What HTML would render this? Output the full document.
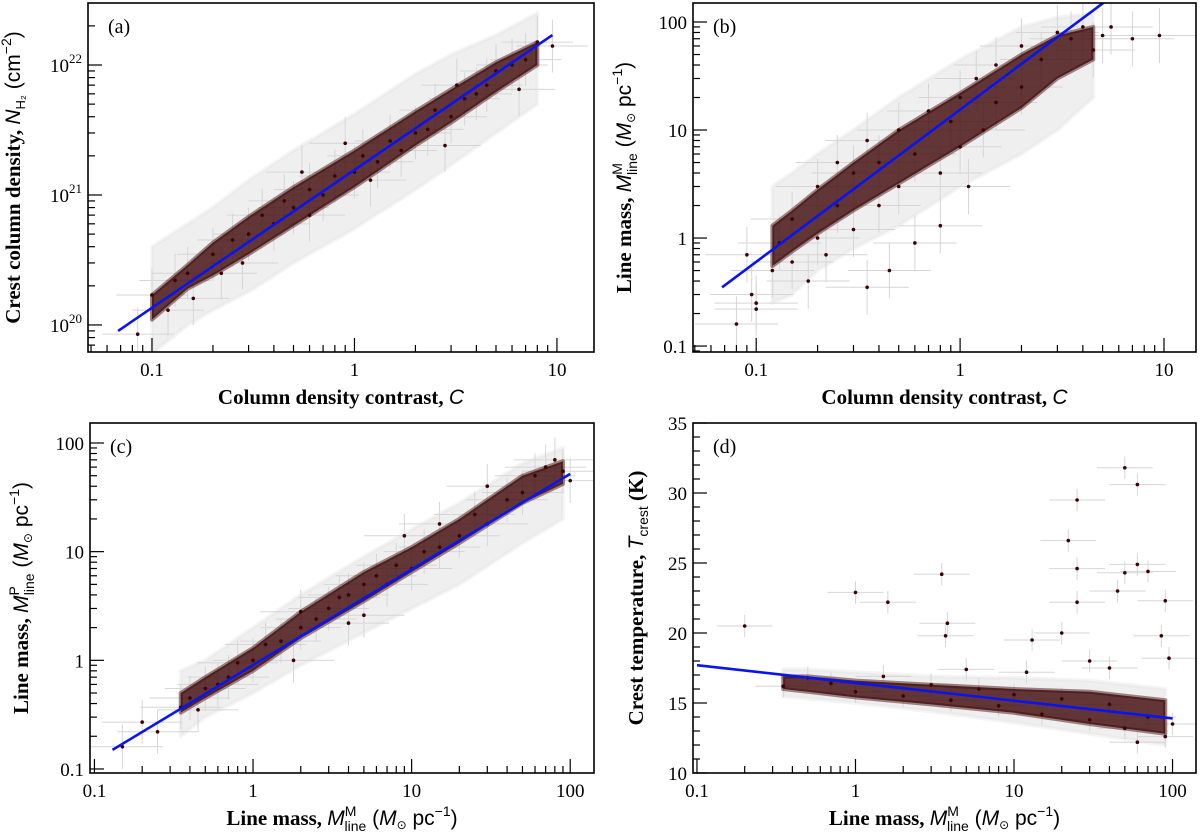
<!DOCTYPE html>
<html><head><meta charset="utf-8"><style>
html,body{margin:0;padding:0;background:#fff;}
svg{display:block;font-family:"Liberation Serif",serif;}
</style></head><body>
<svg id="fig" width="1200" height="839" viewBox="0 0 1200 839" xmlns="http://www.w3.org/2000/svg"></svg>
<script>
// ---------- Panel (a) data ----------
const aPoints=[[0.085,0.85],[0.1,1.7],[0.12,1.3],[0.13,2.2],[0.15,2.5],[0.16,1.6],[0.2,3.5],[0.22,2.5],[0.25,4.5],[0.3,5],[0.35,7],[0.4,6],[0.45,9],[0.5,8],[0.6,11],[0.7,10],[0.8,14],[1,15],[1.1,20],[1.3,18],[1.5,26],[1.7,22],[2,30],[2.3,32],[2.5,45],[3,40],[3.5,55],[4,60],[5,90],[6,100],[7,110],[8,150],[9.5,140],[0.55,15],[0.9,25],[0.28,3],[0.6,7],[1.2,13],[2.8,24],[4.5,70],[6.5,65],[3.2,70]]; // N in 1e20 cm^-2
const aBandX=[0.1,0.15,0.2,0.3,0.5,1,2,3,5,8];
const aBandLo=[1.1,1.9,2.4,3.5,5.8,11.5,24,36,62,100];
const aBandHi=[1.7,2.9,4.3,6.8,11.5,22,44,65,105,150];
const aErrLo=[0.6,1,1.3,1.8,3,5.5,11,17,30,50];
const aErrHi=[4,6,8,13,22,42,85,120,170,250];
const aFitX=[0.068,9.5];
const aFitY=[0.9,170];
// ---------- Panel (b) data ----------
const bPoints=[[0.08,0.16],[0.09,0.7],[0.1,0.22],[0.1,0.25],[0.095,0.3],[0.12,0.5],[0.13,0.9],[0.15,0.6],[0.15,1.5],[0.18,0.4],[0.2,1],[0.2,3],[0.22,0.7],[0.25,2],[0.25,5],[0.3,1.2],[0.3,4],[0.35,8],[0.4,2],[0.4,5],[0.5,3],[0.5,10],[0.6,6],[0.7,15],[0.8,4],[0.9,12],[1,20],[1,7],[1.2,30],[1.3,10],[1.5,40],[1.5,18],[2,25],[2,60],[2.5,45],[3,80],[3.5,70],[4,90],[4.5,55],[5,75],[5.5,90],[7,70],[9.5,75],[0.6,0.9],[0.8,1.3],[0.45,0.5],[1.1,3],[0.35,0.35]];
const bBandX=[0.12,0.15,0.2,0.3,0.5,1,2,3,4.5];
const bBandLo=[0.55,0.75,1.1,1.8,3.2,7,16,30,45];
const bBandHi=[1.3,1.8,2.8,5,10,22,50,75,90];
const bErrLo=[0.25,0.3,0.5,0.8,1.3,3,6,10,20];
const bErrHi=[3,4,6,10,20,45,90,110,120];
const bFitX=[0.068,5.5];
const bFitY=[0.35,170];
// ---------- Panel (c) data ----------
const cPoints=[[0.15,0.16],[0.2,0.27],[0.25,0.22],[0.35,0.37],[0.4,0.45],[0.5,0.55],[0.6,0.6],[0.7,0.7],[0.8,0.95],[1,1],[1.2,1.4],[1.5,1.5],[2,2],[2,2.8],[2.5,2.4],[3,3],[3.5,3.8],[4,4],[5,5],[6,6],[7,5],[8,7.5],[10,7],[12,10],[15,11],[20,14],[25,22],[30,18],[40,30],[50,35],[60,50],[70,60],[80,70],[90,55],[100,45],[0.45,0.35],[1.8,1],[5,2.6],[15,18],[30,40],[4,2.2],[9,14]];
const cBandX=[0.35,0.5,1,2,5,10,20,50,90];
const cBandLo=[0.33,0.45,0.8,1.6,3.5,6.5,12,28,42];
const cBandHi=[0.5,0.7,1.3,2.8,6.5,11,20,50,68];
const cErrLo=[0.2,0.3,0.5,0.9,1.8,3,5,12,20];
const cErrHi=[0.8,1,2,4,9,16,28,65,90];
const cFitX=[0.13,100];
const cFitY=[0.15,52];
// ---------- Panel (d) data ----------
const dPoints=[[0.2,20.5],[1,22.9],[1.6,22.2],[3.5,24.2],[3.8,20.7],[3.7,19.8],[22,26.6],[25,29.5],[25,24.6],[25,22.2],[50,31.8],[60,30.6],[60,24.9],[50,24.3],[70,24.4],[90,22.3],[85,19.8],[95,18.2],[45,23],[13,19.5],[20,20],[30,18],[40,17.5],[0.35,16.2],[0.5,16.8],[0.7,16.4],[1,15.8],[1.5,16.9],[2,15.5],[3,16.3],[4,15.2],[6,16],[8,14.8],[10,15.6],[15,14.2],[20,15.3],[30,13.8],[40,14.9],[50,13.2],[70,14],[90,12.6],[100,13.5],[60,12.2],[12,17.2],[5,17.4]];
const dBandX=[0.35,0.5,1,3,10,30,90];
const dBandLo=[16,15.8,15.4,14.9,14.3,13.5,12.8];
const dBandHi=[16.9,16.9,16.6,16.3,16,15.8,15.2];
const dErrLo=[15.5,15.3,15,14.4,13.6,12.8,12];
const dErrHi=[17.4,17.4,17.2,16.9,16.8,16.6,16];
const dFitX=[0.1,100];
const dFitY=[17.7,13.9];

const NS="http://www.w3.org/2000/svg";
const svg=document.getElementById('fig');
function mk(tag,attrs,parent){const e=document.createElementNS(NS,tag);for(const k in attrs)e.setAttribute(k,attrs[k]);(parent||svg).appendChild(e);return e;}

function panel(cfg){
  const g=mk('g',{});
  
  
  const L=cfg.x0,R=cfg.x1,T=cfg.y0,B=cfg.y1;
  const sx=v=>L+(Math.log10(v)-cfg.xl[0])/(cfg.xl[1]-cfg.xl[0])*(R-L);
  const sy=cfg.ylog?(v=>B-(Math.log10(v)-cfg.yl[0])/(cfg.yl[1]-cfg.yl[0])*(B-T)):(v=>B-(v-cfg.yl[0])/(cfg.yl[1]-cfg.yl[0])*(B-T));
  const clip='clip-'+cfg.name;
  const cp=mk('clipPath',{id:clip},g);mk('rect',{x:L,y:T,width:R-L,height:B-T},cp);
  const inner=mk('g',{'clip-path':'url(#'+clip+')'},g);
  function band(xs,lo,hi,fill,op,nm){
    let p=xs.map((x,i)=>sx(x)+','+sy(hi[i])).join(' ')+' '+xs.slice().reverse().map((x,i)=>sx(x)+','+sy(lo[xs.length-1-i])).join(' ');
    const e=mk('polygon',{points:p,fill:fill,'fill-opacity':op,'stroke':fill,'stroke-opacity':op*0.6,'stroke-width':4,'stroke-linejoin':'round'},inner);
    
    
  }
  band(cfg.bx,cfg.elo,cfg.ehi,'#e4e4e4',0.6,'error-region');
  cfg.pts.forEach(p=>{
    const x=sx(p[0]),y=sy(p[1]);
    const fx=cfg.ex,fy=cfg.ey;
    const x1=sx(p[0]/fx),x2=sx(p[0]*fx);
    const y1=cfg.ylog?sy(p[1]/fy):sy(p[1]-fy),y2=cfg.ylog?sy(p[1]*fy):sy(p[1]+fy);
    const e=mk('path',{d:`M${x1},${y}H${x2}M${x},${y1}V${y2}`,stroke:'#d6d6d6','stroke-width':1,fill:'none'},inner);
    
    
  });
  band(cfg.bx,cfg.blo,cfg.bhi,'#3f0808',0.8,'point-cloud');
  cfg.pts.forEach(p=>{
    const c=mk('circle',{cx:sx(p[0]),cy:sy(p[1]),r:1.8,fill:'#3a0404'},inner);
    
    
  });
  const fl=mk('line',{x1:sx(cfg.fx[0]),y1:sy(cfg.fy[0]),x2:sx(cfg.fx[1]),y2:sy(cfg.fy[1]),stroke:'#0a14f0','stroke-width':2.6},inner);
  
  
  const fr=mk('rect',{x:L,y:T,width:R-L,height:B-T,fill:'none',stroke:'#000','stroke-width':1.6},g);
  
  
  const xt=mk('g',{},g);
  
  
  for(let d=Math.floor(cfg.xl[0]);d<=Math.ceil(cfg.xl[1]);d++){
    for(let m=1;m<10;m++){
      const v=m*Math.pow(10,d);const lv=Math.log10(v);
      if(lv<cfg.xl[0]||lv>cfg.xl[1])continue;
      const x=sx(v);const len=m===1?14:7;
      mk('line',{x1:x,y1:B,x2:x,y2:B-len,stroke:'#000','stroke-width':1.2},xt);
    }
  }
  cfg.xticks.forEach((t,i)=>{
    const tx=mk('text',{x:sx(cfg.xtv[i]),y:B+24,'text-anchor':'middle','font-size':19},xt);tx.textContent=t;
    
    
  });
  const yt=mk('g',{},g);
  
  
  if(cfg.ylog){
    for(let d=Math.floor(cfg.yl[0]);d<=Math.ceil(cfg.yl[1]);d++){
      for(let m=1;m<10;m++){
        const v=m*Math.pow(10,d);const lv=Math.log10(v);
        if(lv<cfg.yl[0]||lv>cfg.yl[1])continue;
        const y=sy(v);const len=m===1?14:7;
        mk('line',{x1:L,y1:y,x2:L+len,y2:y,stroke:'#000','stroke-width':1.2},yt);
      }
    }
  } else {
    for(let v=cfg.yl[0];v<=cfg.yl[1];v+=1){
      const y=sy(v);const len=(v%5===0)?14:7;
      mk('line',{x1:L,y1:y,x2:L+len,y2:y,stroke:'#000','stroke-width':1.2},yt);
    }
  }
  cfg.yticks.forEach((t,i)=>{
    const y=sy(cfg.ytv[i]);
    const tx=mk('text',{x:L-6,y:y+7,'text-anchor':'end','font-size':19},yt);
    
    
    if(Array.isArray(t)){tx.textContent=t[0];const s=mk('tspan',{dy:-9,'font-size':13},tx);s.textContent=t[1];}
    else tx.textContent=t;
  });
  const lab=mk('text',{x:L+20,y:T+30,'font-size':20},g);lab.textContent=cfg.letter;
  
  
  const xtit=mk('text',{x:(L+R)/2,y:B+52,'text-anchor':'middle','font-size':21,'font-weight':'bold'},g);
  xtit.innerHTML=cfg.xtitle;
  
  
  const yx=L-cfg.ytoff,ym=(T+B)/2;
  const ytit=mk('text',{x:yx,y:ym,'text-anchor':'middle','font-size':21,'font-weight':'bold',transform:`rotate(-90 ${yx} ${ym})`},g);
  ytit.innerHTML=cfg.ytitle;
  
  
}

const lm='Line mass, <tspan font-style="italic" font-weight="normal" font-family="Liberation Sans">M</tspan><tspan font-weight="normal" font-family="Liberation Sans" font-size="14" dy="-9">M</tspan><tspan font-weight="normal" font-family="Liberation Sans" font-size="14" dy="15" dx="-12">line</tspan><tspan font-weight="normal" font-family="Liberation Sans" dy="-6"> (</tspan><tspan font-weight="normal" font-style="italic" font-family="Liberation Sans">M</tspan><tspan font-weight="normal" font-family="DejaVu Sans" font-size="12" dy="4">⊙</tspan><tspan font-weight="normal" font-family="Liberation Sans" dy="-4"> pc</tspan><tspan font-weight="normal" font-family="Liberation Sans" font-size="14" dy="-9">−1</tspan><tspan font-weight="normal" font-family="Liberation Sans" dy="9">)</tspan>';
const lmP=lm.replace('font-size="14" dy="-9">M</tspan>','font-size="14" dy="-9">P</tspan>').replace('dx="-12"','dx="-9"');
const cTitle='Column density contrast, <tspan font-style="italic" font-weight="normal" font-family="Liberation Sans">C</tspan>';

panel({name:'panel-a',letter:'(a)',x0:88,x1:594,y0:3,y1:352,xl:[-1.316,1.183],yl:[19.792,22.477],ylog:true,
  pts:aPoints.map(p=>[p[0],p[1]*1e20]),bx:aBandX,blo:aBandLo.map(v=>v*1e20),bhi:aBandHi.map(v=>v*1e20),
  elo:aErrLo.map(v=>v*1e20),ehi:aErrHi.map(v=>v*1e20),fx:aFitX,fy:aFitY.map(v=>v*1e20),ex:1.5,ey:1.6,
  xticks:['0.1','1','10'],xtv:[0.1,1,10],yticks:[['10','20'],['10','21'],['10','22']],ytv:[1e20,1e21,1e22],
  xtitle:cTitle,ytitle:'Crest column density, <tspan font-style="italic" font-weight="normal" font-family="Liberation Sans">N</tspan><tspan font-weight="normal" font-family="Liberation Sans" font-size="13" dy="5">H₂</tspan><tspan font-weight="normal" font-family="Liberation Sans" dy="-5"> (cm</tspan><tspan font-weight="normal" font-family="Liberation Sans" font-size="14" dy="-9">−2</tspan><tspan font-weight="normal" font-family="Liberation Sans" dy="9">)</tspan>',ytoff:68});
panel({name:'panel-b',letter:'(b)',x0:693,x1:1196,y0:3,y1:352,xl:[-1.31,1.157],yl:[-1.055,2.176],ylog:true,
  pts:bPoints,bx:bBandX,blo:bBandLo,bhi:bBandHi,elo:bErrLo,ehi:bErrHi,fx:bFitX,fy:bFitY,ex:1.6,ey:1.8,
  xticks:['0.1','1','10'],xtv:[0.1,1,10],yticks:['0.1','1','10','100'],ytv:[0.1,1,10,100],
  xtitle:cTitle,ytitle:lm,ytoff:62});
panel({name:'panel-c',letter:'(c)',x0:90,x1:594,y0:423,y1:773,xl:[-1.028,2.15],yl:[-1.037,2.184],ylog:true,
  pts:cPoints,bx:cBandX,blo:cBandLo,bhi:cBandHi,elo:cErrLo,ehi:cErrHi,fx:cFitX,fy:cFitY,ex:1.8,ey:1.6,
  xticks:['0.1','1','10','100'],xtv:[0.1,1,10,100],yticks:['0.1','1','10','100'],ytv:[0.1,1,10,100],
  xtitle:lm,ytitle:lmP,ytoff:62});
panel({name:'panel-d',letter:'(d)',x0:693,x1:1196,y0:423,y1:773,xl:[-1.025,2.148],yl:[10,35],ylog:false,
  pts:dPoints,bx:dBandX,blo:dBandLo,bhi:dBandHi,elo:dErrLo,ehi:dErrHi,fx:dFitX,fy:dFitY,ex:1.5,ey:0.8,
  xticks:['0.1','1','10','100'],xtv:[0.1,1,10,100],yticks:['10','15','20','25','30','35'],ytv:[10,15,20,25,30,35],
  xtitle:lm,ytitle:'Crest temperature, <tspan font-style="italic" font-weight="normal" font-family="Liberation Sans">T</tspan><tspan font-weight="normal" font-family="Liberation Sans" font-size="14" dy="5">crest</tspan><tspan dy="-5"> (K)</tspan>',ytoff:50});
</script>
</body></html>
